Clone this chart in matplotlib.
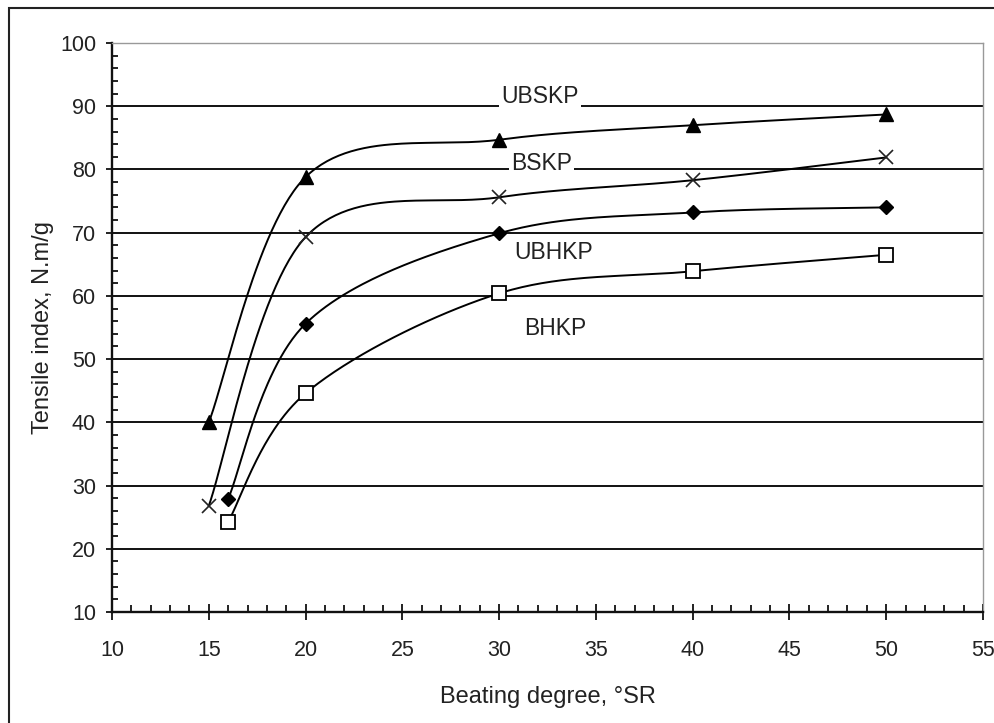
import numpy as np
import matplotlib
matplotlib.use("Agg")
import matplotlib.pyplot as plt
from matplotlib.patches import Rectangle
from matplotlib.ticker import MultipleLocator

plt.rcParams['font.family'] = ['Liberation Sans', 'DejaVu Sans']

# ---- data ----
ubskp_x = [15, 20, 30, 40, 50]
ubskp_y = [40.0, 78.8, 84.7, 87.0, 88.7]
bskp_x = [15, 20, 30, 40, 50]
bskp_y = [26.8, 69.3, 75.6, 78.3, 81.9]
ubhkp_x = [16, 20, 30, 40, 50]
ubhkp_y = [27.9, 55.6, 69.9, 73.2, 74.0]
bhkp_x = [16, 20, 30, 40, 50]
bhkp_y = [24.3, 44.6, 60.4, 63.9, 66.5]

series_names = ["UBSKP", "BSKP", "UBHKP", "BHKP"]
label_pos = [(32.1, 91.6), (32.2, 81.0), (32.8, 66.9), (32.9, 54.9)]

x_label = "Beating degree, °SR"
y_label = "Tensile index, N.m/g"


def smooth(xs, ys, n=60):
    """Excel-like smoothed line: cubic Bezier segments (Catmull-Rom tangents)."""
    P = np.column_stack([xs, ys]).astype(float)
    m = len(P)
    out = []
    for i in range(m - 1):
        p0 = P[i]
        p3 = P[i + 1]
        pm = P[i - 1] if i > 0 else P[i]
        pp = P[i + 2] if i + 2 < m else P[i + 1]
        c1 = p0 + (p3 - pm) / 6.0
        c2 = p3 - (pp - p0) / 6.0
        t = np.linspace(0, 1, n)[:, None]
        seg = ((1 - t) ** 3) * p0 + 3 * ((1 - t) ** 2) * t * c1 + 3 * (1 - t) * t ** 2 * c2 + t ** 3 * p3
        out.append(seg if i == 0 else seg[1:])
    out = np.vstack(out)
    return out[:, 0], out[:, 1]


fig = plt.figure(figsize=(9.94, 7.23), dpi=100)
ax = fig.add_axes([0.1127, 0.1535, 0.8762, 0.787])

# outer frame (only top/left visible)
fig.patches.append(Rectangle((9 / 994, -0.05), 1.2, 1 - 8 / 723 + 0.05,
                             transform=fig.transFigure, fill=False,
                             edgecolor='#222222', linewidth=1.5))

ax.set_xlim(10, 55)
ax.set_ylim(10, 100)

for yv in range(20, 100, 10):
    ax.axhline(yv, color='#111111', lw=1.4, zorder=1)

series = [
    (ubskp_x, ubskp_y, dict(marker='^', ms=9.5, mfc='black', mec='black')),
    (bskp_x, bskp_y, dict(marker='x', ms=9.5, mec='#222222', mew=1.2)),
    (ubhkp_x, ubhkp_y, dict(marker='D', ms=6.8, mfc='black', mec='black')),
    (bhkp_x, bhkp_y, dict(marker='s', ms=10, mfc='white', mec='black', mew=1.3)),
]
for xs, ys, mk in series:
    sx, sy = smooth(xs, ys)
    ax.plot(sx, sy, color='black', lw=1.4, zorder=3)
    ax.plot(xs, ys, linestyle='none', zorder=4, **mk)

for i, (name, (lx, ly)) in enumerate(zip(series_names, label_pos)):
    bbox = dict(facecolor='white', edgecolor='none', pad=1.5) if i < 2 else None
    ax.text(lx, ly, name, ha='center', va='center', fontsize=16.5,
            color='#222222', bbox=bbox, zorder=5)

ax.xaxis.set_major_locator(MultipleLocator(5))
ax.xaxis.set_minor_locator(MultipleLocator(1))
ax.yaxis.set_major_locator(MultipleLocator(10))
ax.yaxis.set_minor_locator(MultipleLocator(2))

ax.tick_params(axis='x', which='major', direction='inout', length=11, width=1.3,
               labelsize=15.5, pad=15, colors='#111111', labelcolor='#222222')
ax.tick_params(axis='x', which='minor', direction='in', length=5, width=1.3, colors='#111111')
ax.tick_params(axis='y', which='major', direction='out', length=4.5, width=1.3,
               labelsize=15.5, pad=7, colors='#111111', labelcolor='#222222')
ax.tick_params(axis='y', which='minor', direction='in', length=4.5, width=1.3, colors='#111111')

for s in ['left', 'bottom']:
    ax.spines[s].set_linewidth(1.7)
    ax.spines[s].set_color('#111111')
for s in ['top', 'right']:
    ax.spines[s].set_linewidth(1.0)
    ax.spines[s].set_color('#999999')

ax.set_xlabel(x_label, fontsize=17, color='#222222', labelpad=18)
ax.set_ylabel(y_label, fontsize=17, color='#222222', labelpad=4)

fig.savefig("out.png", dpi=100)
